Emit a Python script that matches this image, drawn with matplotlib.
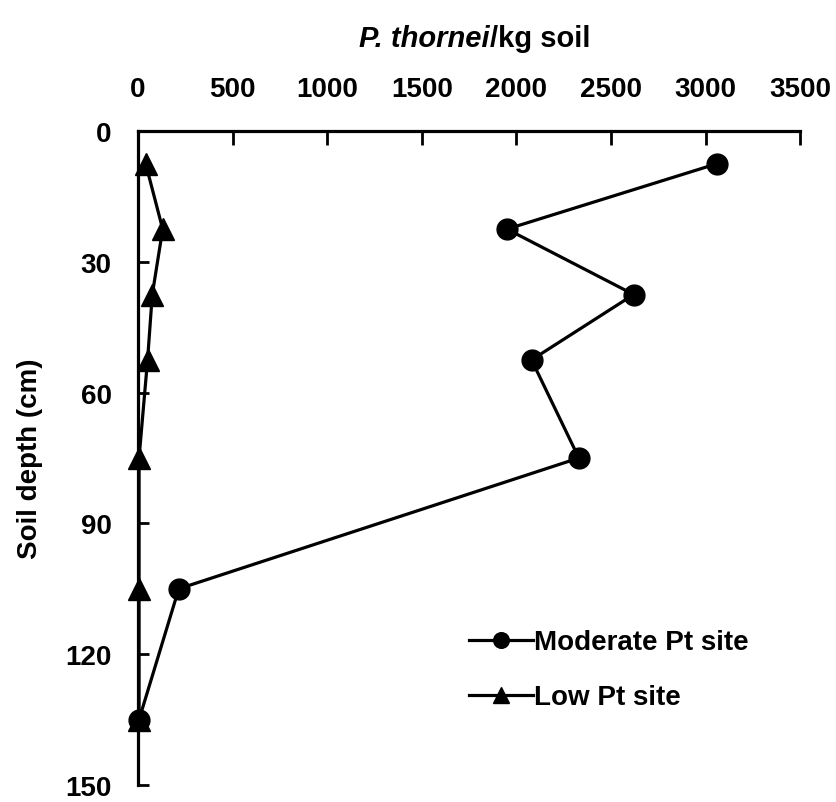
import matplotlib.pyplot as plt

plt.rcParams['font.family'] = 'Liberation Sans'
plt.rcParams['font.weight'] = 'bold'

depth = [7.5, 22.5, 37.5, 52.5, 75, 105, 135]
moderate = [3060, 1950, 2620, 2080, 2330, 215, 5]
low = [40, 130, 75, 50, 5, 5, 5]

fig = plt.figure(figsize=(8.37, 8.03), dpi=100)
ax = fig.add_axes([0.165, 0.0212, 0.791, 0.8144])

ax.plot(moderate, depth, color='black', lw=2.3, marker='o', ms=15, label='Moderate Pt site', clip_on=False)
ax.plot(low, depth, color='black', lw=2.3, marker='^', ms=16, label='Low Pt site', clip_on=False)

ax.set_xlim(0, 3500)
ax.set_ylim(150, 0)
ax.set_xticks(range(0, 3501, 500))
ax.set_yticks(range(0, 151, 30))
ax.xaxis.tick_top()
ax.spines['right'].set_visible(False)
ax.spines['bottom'].set_visible(False)
ax.spines['left'].set_linewidth(2.3)
ax.spines['top'].set_linewidth(2.3)
ax.tick_params(axis='x', direction='in', length=10, width=2, pad=21, labelsize=20)
ax.tick_params(axis='y', direction='in', length=8, width=2, pad=19, labelsize=20)

ax.set_ylabel('Soil depth (cm)', fontsize=20, fontweight='bold', labelpad=16)

# title with italic species name
fig.text(0.585, 0.952, 'P. thornei', fontsize=21, fontweight='bold', style='italic', ha='right', va='center')
fig.text(0.585, 0.952, '/kg soil', fontsize=21, fontweight='bold', ha='left', va='center')

ax.legend(loc='upper left', bbox_to_anchor=(0.483, 0.255), frameon=False, fontsize=20,
          handlelength=2.3, handletextpad=0.05, labelspacing=1.05, borderaxespad=0,
          markerscale=0.75)

fig.savefig('out.png', dpi=100)
